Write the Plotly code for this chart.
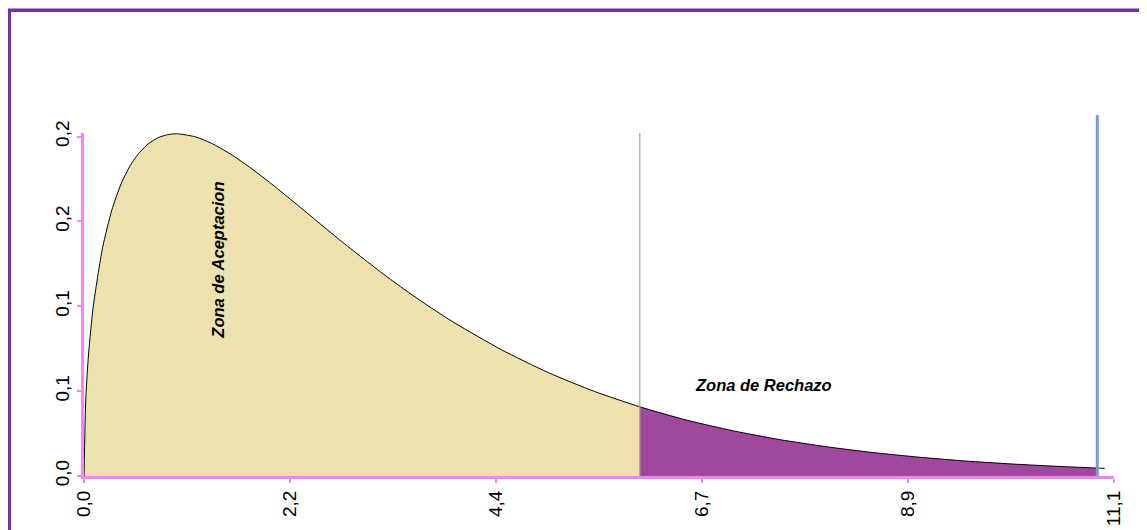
import plotly.graph_objects as go

# Density curve (x, density)
x_vals = [0.0, 0.02, 0.05, 0.1, 0.2, 0.3, 0.4, 0.5, 0.6, 0.7, 0.8, 0.9, 1.0,
          1.2, 1.4, 1.6, 1.8, 2.0, 2.25, 2.5, 2.75, 3.0, 3.25, 3.5, 3.75, 4.0,
          4.5, 5.0, 5.5, 5.99, 6.5, 7.0, 7.5, 8.0, 8.5, 9.0, 9.5, 10.0, 10.5,
          10.92, 11.0]
y_vals = [0.0, 0.0559, 0.0870, 0.1200, 0.1614, 0.1881, 0.2066, 0.2197, 0.2289,
          0.2352, 0.2392, 0.2413, 0.2420, 0.2398, 0.2344, 0.2267, 0.2176, 0.2076,
          0.1943, 0.1807, 0.1672, 0.1542, 0.1416, 0.1297, 0.1185, 0.1080, 0.0892,
          0.0732, 0.0598, 0.0489, 0.0394, 0.0319, 0.0257, 0.0207, 0.0166, 0.0133,
          0.0106, 0.0085, 0.0068, 0.0056, 0.0054]

critical_value = 5.99
observed_value = 10.92

x_tick_vals = [0.0, 2.22, 4.44, 6.66, 8.88, 11.1]
x_tick_text = ["0,0", "2,2", "4,4", "6,7", "8,9", "11,1"]
y_tick_vals = [0.0, 0.06, 0.12, 0.18, 0.24]
y_tick_text = ["0,0", "0,1", "0,1", "0,2", "0,2"]

accept_label = "Zona de Aceptacion"
reject_label = "Zona de Rechazo"

# split the curve into zones
acc_x = [x for x in x_vals if x <= critical_value]
acc_y = [y for x, y in zip(x_vals, y_vals) if x <= critical_value]
rej_x = [x for x in x_vals if critical_value <= x <= observed_value]
rej_y = [y for x, y in zip(x_vals, y_vals) if critical_value <= x <= observed_value]

BEIGE = "#EEE1B0"
PURPLE = "#A0489E"
PINK = "#FF80FF"
FRAME = "#7030A0"

fig = go.Figure()
fig.add_trace(go.Scatter(x=acc_x, y=acc_y, fill="tozeroy", mode="none",
                         fillcolor=BEIGE, hoverinfo="skip", showlegend=False))
fig.add_trace(go.Scatter(x=rej_x, y=rej_y, fill="tozeroy", mode="none",
                         fillcolor=PURPLE, hoverinfo="skip", showlegend=False))
fig.add_trace(go.Scatter(x=x_vals, y=y_vals, mode="lines",
                         line=dict(color="black", width=1, shape="spline", smoothing=0.6),
                         showlegend=False))

# critical value line
fig.add_shape(type="line", xref="x", yref="paper", x0=critical_value, x1=critical_value,
              y0=0, y1=1, line=dict(color="#A0A0A0", width=1.2))
# observed value line
fig.add_shape(type="line", xref="x", yref="paper", x0=observed_value, x1=observed_value,
              y0=0, y1=1.0525, line=dict(color="#7A9CC6", width=3))
# outer frame
fig.add_shape(type="rect", xref="paper", yref="paper", x0=-0.0726, x1=1.0296,
              y0=-0.25, y1=1.3577, line=dict(color=FRAME, width=3.5),
              fillcolor="rgba(0,0,0,0)", layer="above")

fig.add_annotation(x=1.44, y=0.1527, text=accept_label, showarrow=False, textangle=-90,
                   font=dict(family="Liberation Sans", size=16.5, color="black",
                             weight="bold", style="italic"))
fig.add_annotation(x=7.32, y=0.0643, text=reject_label, showarrow=False,
                   font=dict(family="Liberation Sans", size=16.5, color="black",
                             weight="bold", style="italic"))

fig.update_layout(
    width=1139, height=522, autosize=False,
    margin=dict(l=76, r=33, t=125, b=54),
    paper_bgcolor="white", plot_bgcolor="white",
    font=dict(family="Liberation Sans", color="black", size=19),
    xaxis=dict(range=[0, 11.1], tickvals=x_tick_vals, ticktext=x_tick_text,
               tickangle=-90, showgrid=False, zeroline=False, automargin=False,
               showline=True, linecolor=PINK, linewidth=3,
               ticks="outside", tickcolor=PINK, ticklen=4, tickwidth=2),
    yaxis=dict(range=[0, 0.2425], tickvals=y_tick_vals, ticktext=y_tick_text,
               tickangle=-90, showgrid=False, zeroline=False, automargin=False,
               showline=True, linecolor=PINK, linewidth=3,
               ticks="outside", tickcolor=PINK, ticklen=4, tickwidth=2),
)

fig.write_html("out.html")
